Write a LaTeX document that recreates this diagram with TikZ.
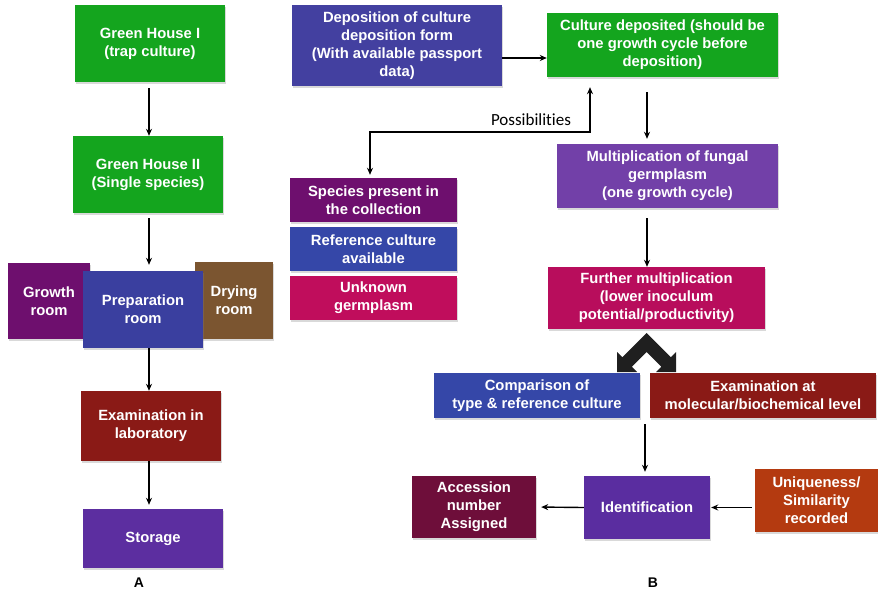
\documentclass[tikz,border=0pt]{standalone}
\usepackage{fontspec}
\setmainfont{Liberation Sans}
\newfontfamily\possfont[Ligatures={NoCommon}]{Carlito}
\usetikzlibrary{arrows.meta,shadows}
\definecolor{cgreen}{HTML}{14A51E}
\definecolor{cpurpleA}{HTML}{6E0F6E}
\definecolor{cblueprep}{HTML}{3A3F9F}
\definecolor{cbrown}{HTML}{7B5530}
\definecolor{cdarkred}{HTML}{8A1A16}
\definecolor{cstorage}{HTML}{5C2EA0}
\definecolor{cdepo}{HTML}{4340A0}
\definecolor{cmult}{HTML}{7240A8}
\definecolor{cmagenta}{HTML}{B80D5C}
\definecolor{cmagentab}{HTML}{C00D5C}
\definecolor{cblueref}{HTML}{3547A8}
\definecolor{cident}{HTML}{5A2DA0}
\definecolor{caccess}{HTML}{6E0E3A}
\definecolor{corange}{HTML}{B43A10}
\begin{document}
\begin{tikzpicture}[x={(1pt,0)},y={(0,-1pt)},
  box/.style={rectangle, inner sep=0pt, align=center, text=white,
    font=\fontsize{14.8}{18}\selectfont\bfseries,
    drop shadow={shadow xshift=1pt, shadow yshift=-2pt, opacity=0.3}},
  arr/.style={-{Stealth[length=7pt,width=6pt]}, line width=1.4pt, black},
  dblarr/.style={{Stealth[length=7pt,width=6pt]}-{Stealth[length=7pt,width=6pt]}, line width=1.4pt, black},
  lbl/.style={font=\fontsize{14}{16}\selectfont\bfseries, text=black}]
\useasboundingbox (0,0) rectangle (878,592);
% ---------- A ----------
\node[box, fill=cgreen, minimum width=150pt, minimum height=77pt] (gh1) at (150,43.5) {Green House I\\(trap culture)};
\node[box, fill=cgreen, minimum width=150pt, minimum height=77pt] (gh2) at (148,174.5) {Green House II\\(Single species)};
\node[box, fill=cpurpleA, minimum width=82pt, minimum height=76pt] (grow) at (49,301) {Growth\\room};
\node[box, fill=cbrown, minimum width=78pt, minimum height=77pt] (dry) at (234,300.5) {Drying\\room};
\node[box, fill=cblueprep, minimum width=120pt, minimum height=77pt] (prep) at (143,309.5) {Preparation\\room};
\node[box, fill=cdarkred, minimum width=140pt, minimum height=70pt] (exam) at (151,426) {Examination in\\laboratory};
\node[box, fill=cstorage, minimum width=140pt, minimum height=59pt] (stor) at (153,538.5) {Storage};
\node[lbl] (la) at (139,583) {A};
\draw[arr, shorten <=6pt] (gh1.south -| 149,0) -- (gh2.north -| 149,0);
\draw[arr, shorten <=5pt, shorten >=6pt] (gh2.south -| 149,0) -- (prep.north -| 149,0);
\draw[arr] (prep.south -| 149,0) -- (exam.north -| 149,0);
\draw[arr, shorten >=4pt] (exam.south -| 149,0) -- (stor.north -| 149,0);
% ---------- B ----------
\node[box, fill=cdepo, minimum width=210pt, minimum height=81pt] (depo) at (397,45.5) {Deposition of culture\\deposition form\\(With available passport\\data)};
\node[box, fill=cgreen, minimum width=231pt, minimum height=64pt] (cult) at (662.5,45) {Culture deposited (should be\\one growth cycle before\\deposition)};
\node[box, fill=cmult, minimum width=221pt, minimum height=64pt] (mult) at (667.5,176) {Multiplication of fungal\\germplasm\\(one growth cycle)};
\node[box, fill=cmagenta, minimum width=217pt, minimum height=62pt] (furth) at (656.5,298) {Further multiplication\\(lower inoculum\\potential/productivity)};
\node[box, fill=cpurpleA, minimum width=167pt, minimum height=44pt] (spec) at (373.5,200) {Species present in\\the collection};
\node[box, fill=cblueref, minimum width=167pt, minimum height=44pt] (ref) at (373.5,249) {Reference culture\\available};
\node[box, fill=cmagentab, minimum width=167pt, minimum height=44pt] (unk) at (373.5,297.5) {Unknown\\germplasm};
\node[box, fill=cblueref, minimum width=206pt, minimum height=45pt] (comp) at (537,395.5) {Comparison of\\type \& reference culture};
\node[box, fill=cdarkred, minimum width=226pt, minimum height=45pt] (molec) at (763,395.5) {Examination at\\molecular/biochemical level};
\node[box, fill=cident, minimum width=126pt, minimum height=63pt] (ident) at (647,507.5) {Identification};
\node[box, fill=caccess, minimum width=124pt, minimum height=62pt] (acc) at (474,507) {Accession\\number\\Assigned};
\node[box, fill=corange, minimum width=123pt, minimum height=63pt] (uniq) at (816.5,500.5) {Uniqueness/\\Similarity\\recorded};
\node[lbl] (lb) at (653,583) {B};
% connectors
\draw[arr] (depo.east |- 0,58) -- (cult.west |- 0,58);
\coordinate (p1) at (590,132);
\coordinate (p2) at (370,132);
\draw[dblarr, shorten <=10pt, shorten >=3pt] (cult.south -| p1) -- (p1) -- (p2) -- (spec.north -| p2);
\node[font=\possfont\fontsize{17}{19}\selectfont, anchor=base] (poss) at (531,125) {Possibilities};
\draw[arr, shorten <=15pt, shorten >=5pt] (cult.south -| 647,0) -- (mult.north -| 647,0);
\draw[arr, shorten <=10pt] (mult.south -| 647,0) -- (furth.north -| 647,0);
\draw[arr, shorten <=6pt, shorten >=4pt] (comp.south -| 645,0) -- (ident.north -| 645,0);
\draw[arr, shorten >=5pt] (ident.west) -- (acc.east);
\draw[arr, shorten <=3pt, shorten >=1pt] (uniq.west |- ident.west) -- (ident.east);
% chevron double arrow
\fill[black!88] (646.5,333) -- (622.25,357.25) -- (617,352) -- (617,372) -- (637,372) -- (631.75,366.75) -- (646.5,352)
  -- (661.25,366.75) -- (656,372) -- (676,372) -- (676,352) -- (670.75,357.25) -- cycle;
\end{tikzpicture}
\end{document}
